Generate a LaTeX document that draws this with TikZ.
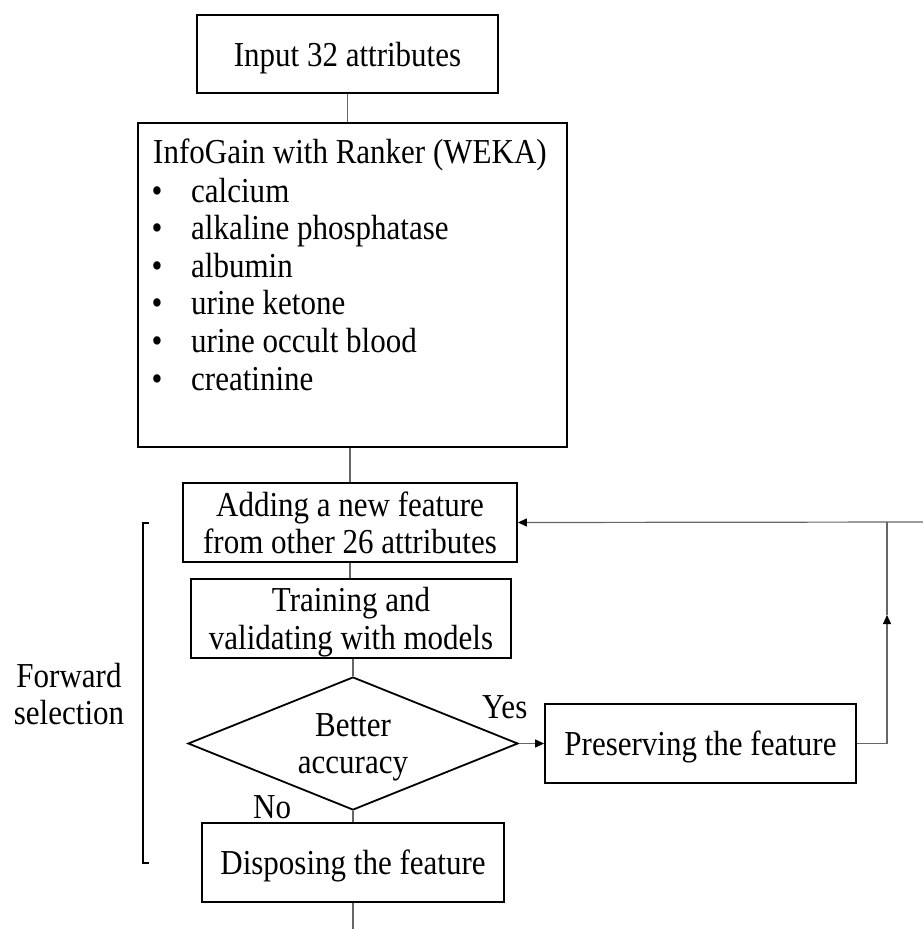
\documentclass[tikz,border=0pt]{standalone}
\usepackage{fontspec}
\setmainfont{Liberation Serif}[FakeStretch=0.886]
\usetikzlibrary{shapes.geometric,arrows.meta}
\begin{document}
\begin{tikzpicture}[x=1pt,y=-1pt,
  every node/.style={font=\fontsize{35}{37.5}\selectfont},
  box/.style={draw=black,line width=1.8pt,inner sep=0pt,align=center,text depth=0pt},
  conn/.style={draw=black!60,line width=1.2pt},
  arr/.style={conn,-{Triangle[length=9pt,width=8pt,color=black,fill=black]}},
  plain/.style={inner sep=0pt}]
\useasboundingbox (0,0) rectangle (923,929);

\node[box,minimum width=301,minimum height=78] (top) at (347.5,54) {Input 32 attributes};
\node[box,minimum width=429,minimum height=324] (info) at (352.5,285) {};
\node[plain,anchor=base west] (title) at (153,163) {InfoGain with Ranker (WEKA)};
\foreach \i/\t/\yy in {1/calcium/202,2/alkaline phosphatase/239.5,3/albumin/277,4/urine ketone/314.5,5/urine occult blood/352,6/creatinine/390}{
  \node[plain,anchor=base] (b\i) at (157,\yy) {•};
  \node[plain,anchor=base west] (t\i) at (191,\yy) {\t};
}

\node[box,minimum width=334,minimum height=79] (add) at (350,522.5) {Adding a new feature\\from other 26 attributes};
\node[box,minimum width=320,minimum height=79] (train) at (351,618.5) {Training and\\validating with models};
\node[draw=black,line width=1.8pt,diamond,aspect=2.48,inner sep=0pt,minimum width=330,minimum height=133,align=center,text depth=0pt] (dia) at (353,743.5) {Better\\accuracy};
\node[box,minimum width=302,minimum height=79] (disp) at (353,862.5) {Disposing the feature};
\node[box,minimum width=311,minimum height=79] (pres) at (700.5,743.5) {Preserving the feature};

\node[plain,anchor=base west] (yes) at (482,718) {Yes};
\node[plain,anchor=base west] (no) at (253,818) {No};
\node[plain,align=center] (fwd) at (69,694) {Forward\\selection};

% bracket
\draw[line width=2pt] (149,523) -- (143,523) -- (143,863) -- (149,863);

% connectors
\draw[conn] (top.south) -- (top.south |- info.north);
\draw[conn] (add.north |- info.south) -- (add.north);
\draw[conn] (add.south) -- (add.south |- train.north);
\draw[conn] (dia.north |- train.south) -- (dia.north);
\draw[conn] (dia.south) -- (disp.north);
\coordinate (endb) at (353,929);
\draw[conn] (disp.south) -- (endb);
\draw[arr] (dia.east) -- (pres.west);
\coordinate (j1) at (887,743.5);
\coordinate (jm) at (887,615);
\coordinate (j2) at (887,522);
\coordinate (redge) at (923,522);
\draw[conn] (pres.east) -- (j1);
\draw[arr] (j1) -- (jm);
\draw[conn] (jm) -- (j2);
\draw[arr] (redge) -- (add.east);
\end{tikzpicture}
\end{document}
